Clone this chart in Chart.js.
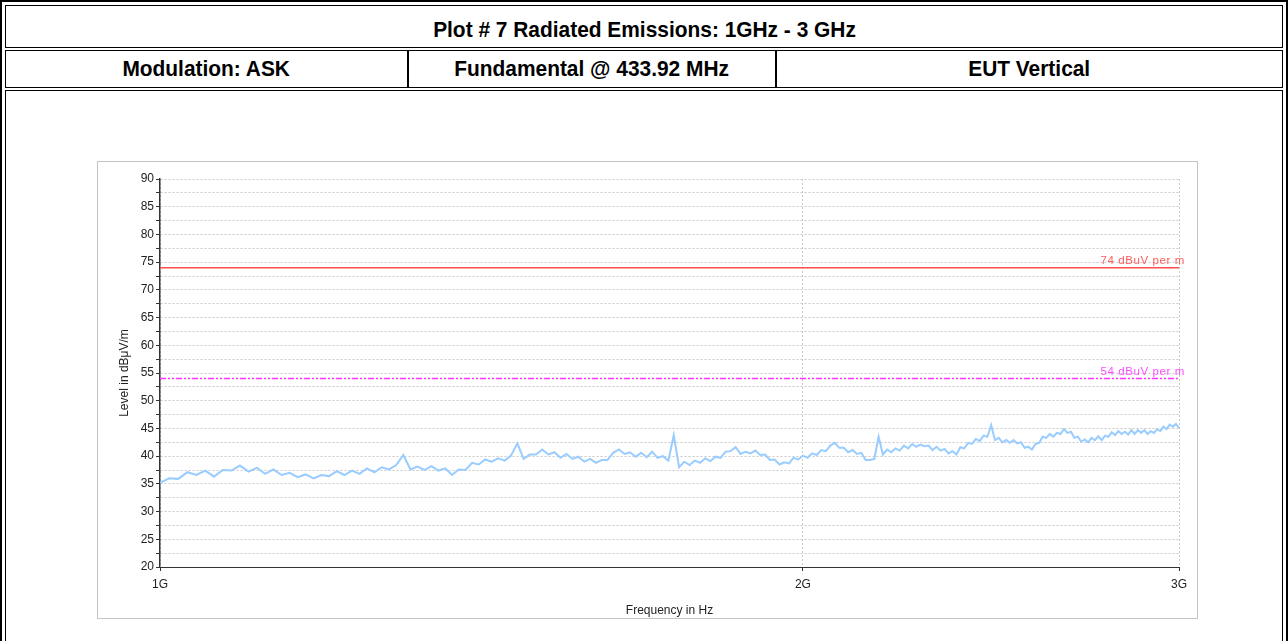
<!DOCTYPE html>
<html lang="en">
<head>
<meta charset="UTF-8">
<title>Plot # 7 Radiated Emissions: 1GHz - 3 GHz</title>
<script src="https://cdn.jsdelivr.net/npm/chart.js"></script>
<style>
  body { margin:0; background:#fff; width:1288px; height:641px; overflow:hidden; position:relative; font-family:"Liberation Sans", Arial, sans-serif; }
  .box { position:absolute; box-sizing:border-box; }
  .outer { left:0; top:0; width:1288px; height:700px; border:2px solid #000; }
  .head { font-family:"Liberation Sans Narrow","Arial Narrow","Liberation Sans",sans-serif; font-weight:bold; font-size:22px; color:#000;
          display:flex; align-items:center; justify-content:center; }
  .head span { display:inline-block; transform:scaleX(0.95); }
  #title { left:5px; top:5px; width:1278px; height:43px; border:1px solid #000; padding-top:6px; }
  #sub { left:5px; top:50px; width:1278px; height:38px; border:1px solid #000; }
  .cell { top:51px; height:36px; }
  #c1 { left:6px; width:403px; border-right:2px solid #000; }
  #c2 { left:409px; width:368px; border-right:2px solid #000; }
  #c3 { left:777px; width:505px; }
  #body { left:5px; top:90px; width:1278px; height:600px; border:1px solid #000; }
  #panel { left:97px; top:161px; width:1101px; height:458px; border:1px solid #c4c4c4; }
  #panel canvas { position:absolute; left:0; top:0; }
</style>
</head>
<body>
  <div class="box outer"></div>
  <div class="box head" id="title"><span>Plot # 7 Radiated Emissions: 1GHz - 3 GHz</span></div>
  <div class="box" id="sub"></div>
  <div class="box head cell" id="c1"><span>Modulation: ASK</span></div>
  <div class="box head cell" id="c2"><span>Fundamental @ 433.92 MHz</span></div>
  <div class="box head cell" id="c3"><span>EUT Vertical</span></div>
  <div class="box" id="body"></div>
  <div class="box" id="panel">
    <canvas id="chart" width="1099" height="456" style="width:1099px;height:456px"></canvas>
  </div>

<script>
// frequency in MHz, level in dBuV/m
const freqMHz = [
  1000,1010,1020,1030,1040,1050,1060,1070,1080,1090,
  1100,1110,1120,1130,1140,1150,1160,1170,1180,1190,
  1200,1210,1220,1230,1240,1250,1260,1270,1280,1290,
  1300,1310,1320,1330,1340,1350,1360,1370,1380,1390,
  1400,1410,1420,1430,1440,1450,1460,1470,1480,1490,
  1500,1510,1520,1530,1540,1550,1560,1570,1580,1590,
  1600,1610,1620,1630,1640,1650,1660,1670,1680,1690,
  1700,1710,1720,1730,1740,1750,1760,1770,1780,1790,
  1800,1810,1820,1830,1840,1850,1860,1870,1880,1890,
  1900,1910,1920,1930,1940,1950,1960,1970,1980,1990,
  2000,2010,2020,2030,2040,2050,2060,2070,2080,2090,
  2100,2110,2120,2130,2140,2150,2160,2170,2180,2190,
  2200,2210,2220,2230,2240,2250,2260,2270,2280,2290,
  2300,2310,2320,2330,2340,2350,2360,2370,2380,2390,
  2400,2410,2420,2430,2440,2450,2460,2470,2480,2490,
  2500,2510,2520,2530,2540,2550,2560,2570,2580,2590,
  2600,2610,2620,2630,2640,2650,2660,2670,2680,2690,
  2700,2710,2720,2730,2740,2750,2760,2770,2780,2790,
  2800,2810,2820,2830,2840,2850,2860,2870,2880,2890,
  2900,2910,2920,2930,2940,2950,2960,2970,2980,2990,
  3000
];
const levelDb = [
  35.2,36.0,35.9,37.1,36.6,37.4,36.3,37.5,37.4,38.3,
  37.2,37.9,36.8,37.6,36.6,37.0,36.2,36.7,36.0,36.6,
  36.4,37.3,36.6,37.4,36.8,37.8,37.1,38.0,37.6,38.4,
  40.2,37.6,38.1,37.5,38.2,37.4,37.8,36.6,37.6,37.5,
  38.8,38.5,39.4,39.0,39.6,39.2,40.1,42.3,39.5,40.3,
  40.3,41.2,40.3,40.7,39.7,40.4,39.5,39.9,39.0,39.5,
  38.8,39.3,39.3,40.6,41.2,40.4,40.7,39.9,40.6,39.8,
  40.8,39.7,40.0,39.2,43.8,38.0,39.0,38.4,39.2,38.8,
  39.6,39.1,39.9,39.7,40.8,40.9,41.6,40.4,40.8,40.5,
  41.0,40.2,40.3,39.3,39.4,38.5,38.9,38.7,39.7,39.4,
  40.1,39.7,40.5,40.2,41.1,40.9,41.9,42.4,41.5,41.5,
  40.7,41.1,40.4,40.6,39.3,39.3,39.5,43.5,40.3,41.2,
  40.7,41.4,41.0,41.9,41.4,42.2,41.7,42.1,41.8,41.9,
  41.1,41.7,41.0,41.3,40.5,40.9,40.3,41.6,41.4,42.4,
  42.2,43.1,42.7,43.7,43.5,45.6,42.9,43.3,42.5,42.9,
  42.4,42.9,42.3,42.5,41.5,41.7,41.2,42.2,42.4,43.5,
  43.3,44.0,43.5,44.2,44.0,44.9,44.2,44.4,43.3,43.5,
  42.6,43.0,42.5,43.3,42.9,43.6,42.9,43.7,43.5,44.3,
  43.8,44.5,44.0,44.4,43.9,44.7,44.0,44.7,44.2,44.7,
  44.0,44.5,44.2,44.9,44.5,45.3,44.9,45.7,45.3,45.8,
  45.1
];

// limit lines
const limitFreq = [1000, 3000];
const limitPk = [74, 74];
const limitAv = [54, 54];
const limitPkLabel = '74 dBuV per m';
const limitAvLabel = '54 dBuV per m';

// axis ticks
const xTickValues = [1000, 2000, 3000];
const xTickLabels = ['1G', '2G', '3G'];
const yMin = 20, yMax = 90, yStep = 2.5;

const toPoints = (xs, ys) => xs.map((x, i) => ({x: x, y: ys[i]}));

// write the limit names at the right end of each limit line
const limitText = {
  id: 'limitText',
  afterDatasetsDraw(chart) {
    const ctx = chart.ctx;
    const y = chart.scales.y;
    const right = chart.chartArea.right + 6;
    ctx.save();
    ctx.font = '11.5px "Liberation Sans", Arial, sans-serif';
    ctx.letterSpacing = '0.6px';
    ctx.textAlign = 'right';
    ctx.textBaseline = 'bottom';
    ctx.fillStyle = '#ff5c5c';
    ctx.fillText(limitPkLabel, right, y.getPixelForValue(limitPk[0]) - 1);
    ctx.fillStyle = '#ff4dff';
    ctx.fillText(limitAvLabel, right, y.getPixelForValue(limitAv[0]) - 1);
    ctx.restore();
  }
};

const axisFont = {family: '"Liberation Sans", Arial, sans-serif', size: 12};

new Chart(document.getElementById('chart'), {
  type: 'line',
  data: {
    datasets: [{
      label: 'Level',
      data: toPoints(freqMHz, levelDb),
      borderColor: '#99ccff',
      borderWidth: 2,
      pointRadius: 0,
      tension: 0
    }, {
      label: limitPkLabel,
      data: toPoints(limitFreq, limitPk),
      borderColor: '#ff4d4d',
      borderWidth: 1.5,
      pointRadius: 0
    }, {
      label: limitAvLabel,
      data: toPoints(limitFreq, limitAv),
      borderColor: '#ff33ff',
      borderWidth: 1.5,
      borderDash: [6, 2, 2, 2, 2, 2],
      pointRadius: 0
    }]
  },
  options: {
    responsive: false,
    animation: false,
    layout: {padding: {top: 17, right: 18, bottom: 0, left: 0}},
    plugins: {legend: {display: false}, tooltip: {enabled: false}},
    scales: {
      x: {
        type: 'logarithmic',
        min: 1000,
        max: 3000,
        afterBuildTicks: (scale) => { scale.ticks = xTickValues.map(v => ({value: v})); },
        afterFit: (scale) => { scale.height = 51; },
        ticks: {
          autoSkip: false,
          maxRotation: 0,
          padding: 6,
          color: '#222',
          font: axisFont,
          callback: (v) => xTickLabels[xTickValues.indexOf(v)]
        },
        grid: {color: '#c8c8c8', tickColor: '#333', tickLength: 4},
        border: {color: '#333', width: 1, dash: [2, 2]},
        title: {display: true, text: 'Frequency in Hz', color: '#222', font: axisFont, padding: {top: 0, bottom: 0}}
      },
      y: {
        min: yMin,
        max: yMax,
        afterFit: (scale) => { scale.width = 62; },
        ticks: {
          stepSize: yStep,
          autoSkip: false,
          padding: 2,
          color: '#222',
          font: axisFont,
          callback: (v) => (v % 5 === 0 ? v : '')
        },
        grid: {color: '#c8c8c8', tickColor: '#333', tickLength: 4},
        border: {color: '#333', width: 1.5, dash: [2, 2]},
        title: {display: true, text: 'Level in dBμV/m', color: '#222', font: axisFont, padding: {top: 19, bottom: 0}}
      }
    }
  },
  plugins: [limitText]
});
</script>
</body>
</html>
